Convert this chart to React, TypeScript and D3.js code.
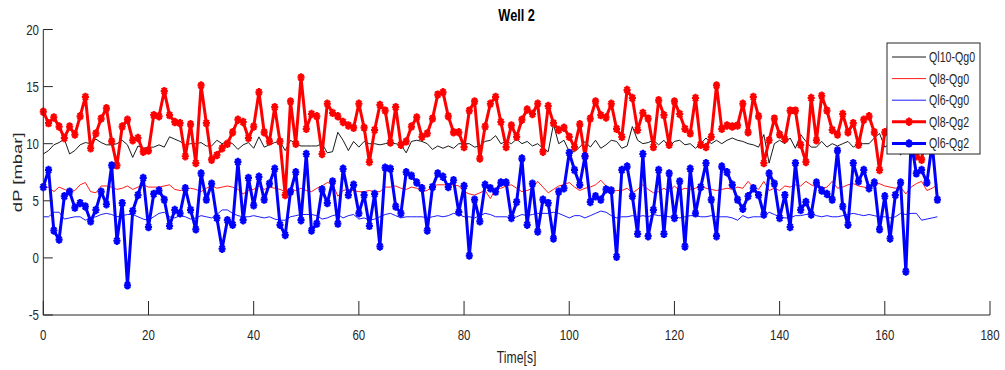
import React from "react";
import * as d3 from "d3";

const TITLE = "Well 2";
const X_LABEL = "Time[s]";
const Y_LABEL = "dP [mbar]";
const X_TICKS = [0, 20, 40, 60, 80, 100, 120, 140, 160, 180];
const Y_TICKS = [-5, 0, 5, 10, 15, 20];
const SERIES_NAMES = ["Ql10-Qg0", "Ql8-Qg0", "Ql6-Qg0", "Ql8-Qg2", "Ql6-Qg2"];

const QL10_QG0 = [
  9.1, 9.4, 9.9, 10.1, 10.4, 9.1, 9.4, 9.9, 10.1, 10.0,
  10.4, 10.1, 9.9, 9.9, 10.0, 10.3, 9.9, 8.8, 9.8, 9.6,
  9.7, 9.7, 9.9, 9.7, 10.6, 10.4, 10.2, 9.9, 10.0, 10.0,
  10.1, 9.8, 9.8, 10.3, 10.0, 10.2, 10.0, 9.5, 9.9, 10.1,
  9.6, 10.6, 9.7, 9.9, 10.1, 10.2, 9.4, 10.3, 10.0, 9.8,
  9.8, 9.8, 9.8, 10.0, 9.2, 9.3, 11.0, 10.3, 9.4, 10.2,
  9.7, 10.2, 10.0, 10.0, 9.9, 10.0, 10.1, 10.0, 9.9, 9.2,
  10.2, 10.3, 10.2, 10.0, 9.5, 9.8, 9.6, 9.8, 9.6, 10.0,
  10.0, 10.0, 9.7, 9.8, 10.2, 10.3, 10.7, 10.0, 10.2, 10.0,
  10.4, 10.0, 10.2, 9.8, 10.0, 9.6, 9.3, 11.7, 10.0, 10.3,
  9.3, 9.3, 9.7, 10.2, 9.7, 10.3, 9.6, 9.9, 10.3, 10.2,
  9.6, 9.8, 11.5, 10.3, 10.0, 10.1, 10.3, 9.9, 10.3, 9.7,
  10.2, 10.3, 9.9, 10.0, 9.6, 10.0, 10.5, 10.0, 10.3, 10.0,
  10.3, 10.5, 10.3, 10.2, 10.0, 9.9, 9.7, 10.8, 8.3, 10.0,
  10.3, 10.0, 10.5, 9.6, 10.8, 10.2, 9.7, 9.7, 10.2, 9.7,
  10.0, 9.8, 10.0, 10.2, 9.7, 10.0, 10.0, 10.0, 10.5, 10.9,
  9.7, 10.0, 9.8, 9.0, 10.0, 10.2, 9.9, 10.1, 10.0, 9.9,
  10.1,
];

const QL8_QG0 = [
  6.1, 6.2, 5.8, 6.2, 6.0, 5.8, 5.9, 6.4, 6.6, 5.8,
  5.7, 6.3, 6.3, 6.2, 6.0, 6.1, 6.3, 6.0, 6.2, 6.4,
  6.2, 6.2, 6.2, 6.3, 6.4, 6.0, 5.9, 6.0, 6.1, 6.0,
  5.8, 6.1, 6.3, 6.1, 6.2, 6.3, 6.2, 6.0, 5.6, 5.9,
  6.0, 6.3, 6.0, 6.2, 6.1, 6.0, 5.8, 6.0, 5.9, 6.1,
  5.9, 5.8, 6.1, 6.3, 6.6, 6.5, 5.4, 5.9, 6.0, 5.9,
  5.8, 5.8, 5.9, 5.8, 5.8, 6.2, 6.2, 6.3, 6.1, 6.0,
  6.2, 6.1, 5.8, 5.9, 6.3, 6.4, 6.4, 6.4, 6.4, 6.3,
  5.8, 5.6, 5.5, 5.7, 5.9, 5.2, 6.0, 6.1, 6.3, 6.4,
  6.1, 5.8, 5.9, 6.1, 6.7, 6.2, 5.7, 6.0, 6.3, 6.4,
  6.6, 6.2, 5.9, 6.1, 6.2, 6.4, 6.8, 6.3, 5.8, 5.9,
  5.9, 6.1, 5.7, 6.0, 6.4, 6.0, 5.7, 5.8, 6.1, 5.8,
  6.3, 5.9, 6.1, 6.0, 6.1, 6.3, 6.1, 6.0, 5.9, 6.0,
  6.1, 6.0, 6.2, 6.1, 6.7, 6.2, 6.0, 6.7, 5.9, 6.1,
  5.9, 6.3, 6.2, 6.4, 6.3, 6.7, 6.4, 6.2, 6.1, 6.2,
  6.7, 6.1, 6.2, 6.4, 6.5, 6.3, 6.2, 6.1, 6.5, 6.5,
  6.3, 6.2, 6.1, 6.2, 5.6, 6.2, 6.5, 6.7, 5.9, 6.1,
  6.4,
];

const QL6_QG0 = [
  3.6, 3.6, 4.0, 4.0, 3.4, 3.5, 3.6, 3.6, 3.3, 3.5,
  3.6, 3.8, 3.9, 3.8, 3.6, 3.7, 3.8, 3.8, 3.6, 3.4,
  3.3, 3.6, 3.9, 4.0, 3.6, 3.5, 3.7, 3.6, 3.4, 3.5,
  3.7, 3.6, 3.5, 3.8, 4.2, 4.2, 3.9, 3.7, 3.6, 3.6,
  3.7, 3.6, 3.5, 3.6, 3.4, 3.3, 3.3, 3.6, 3.7, 3.8,
  3.8, 3.8, 3.7, 3.4, 3.5, 3.7, 3.8, 3.5, 3.7, 3.8,
  3.4, 3.5, 3.3, 3.4, 3.6, 3.8, 3.9, 3.7, 3.5, 3.6,
  3.6, 3.6, 3.6, 3.5, 3.6, 3.7, 3.6, 3.7, 3.9, 3.8,
  3.6, 3.6, 3.5, 3.7, 3.9, 3.8, 3.6, 3.6, 3.6, 3.5,
  3.6, 3.8, 3.7, 3.8, 3.9, 3.9, 3.9, 4.0, 3.9, 3.7,
  3.5, 3.7, 3.7, 3.5, 3.7, 3.9, 4.1, 4.0, 3.7, 3.5,
  3.6, 3.6, 3.7, 3.6, 3.7, 3.6, 3.8, 3.7, 3.7, 3.6,
  3.6, 3.5, 3.6, 3.7, 3.7, 3.6, 3.6, 3.7, 3.6, 3.6,
  3.6, 3.5, 3.3, 3.7, 3.5, 3.6, 3.6, 3.6, 4.0, 3.8,
  3.6, 3.5, 3.5, 3.7, 3.7, 3.8, 3.9, 3.7, 3.6, 3.7,
  3.6, 3.6, 3.7, 3.8, 3.9, 3.8, 3.7, 3.8, 3.7, 3.6,
  3.6, 3.5, 3.6, 3.9, 3.8, 3.9, 3.9, 3.3, 3.4, 3.5,
  3.6,
];

const QL8_QG2 = [
  12.8, 11.8, 12.3, 11.5, 10.5, 11.5, 10.8, 12.4, 14.1, 9.6,
  10.9, 12.2, 13.1, 10.2, 8.1, 11.5, 12.1, 10.3, 10.5, 9.3,
  9.4, 12.5, 12.4, 14.6, 12.5, 11.9, 11.8, 8.9, 11.7, 8.3,
  15.1, 11.8, 8.6, 9.0, 9.6, 10.0, 11.0, 12.1, 11.9, 10.5,
  11.5, 14.5, 11.0, 10.2, 13.2, 10.2, 5.5, 13.7, 10.0, 15.8,
  11.3, 12.6, 12.4, 9.1, 13.5, 12.7, 12.4, 11.9, 11.6, 11.4,
  13.5, 11.4, 8.4, 11.2, 13.4, 12.9, 10.1, 13.2, 9.9, 10.2,
  11.5, 12.3, 10.6, 10.9, 12.2, 14.3, 14.5, 12.4, 11.0, 11.0,
  9.7, 12.9, 13.7, 8.7, 11.5, 13.5, 14.1, 11.9, 9.7, 11.6,
  10.6, 12.1, 13.0, 12.6, 13.5, 9.3, 13.3, 11.8, 11.2, 11.4,
  10.6, 9.7, 11.7, 8.9, 12.2, 13.7, 12.5, 12.3, 13.5, 11.3,
  10.6, 14.7, 14.0, 11.2, 12.7, 12.2, 9.7, 13.8, 12.5, 9.9,
  13.7, 12.6, 11.3, 10.9, 14.0, 9.9, 9.7, 10.6, 15.1, 11.3,
  11.6, 11.5, 11.6, 13.5, 11.0, 14.1, 12.4, 8.3, 10.3, 12.2,
  10.8, 10.4, 12.9, 12.9, 9.9, 8.4, 14.0, 10.3, 14.2, 12.9,
  11.2, 10.8, 12.6, 11.0, 11.8, 9.9, 12.1, 12.4, 11.0, 7.7,
  11.0, 11.4, 12.0, 10.6, 12.4, 11.2, 8.9, 8.6, 11.6, 12.2,
  10.8,
];

const QL6_QG2 = [
  6.2, 7.7, 2.4, 1.6, 5.4, 5.8, 4.4, 4.8, 4.5, 3.2,
  4.2, 5.8, 4.7, 8.1, 1.5, 4.8, -2.4, 4.1, 5.5, 7.0,
  2.7, 5.6, 5.9, 5.1, 2.8, 4.2, 3.9, 6.1, 4.2, 2.5,
  7.4, 5.1, 6.5, 3.5, 0.8, 3.3, 2.9, 8.4, 3.3, 7.0,
  4.6, 7.1, 5.1, 6.5, 7.8, 2.9, 2.0, 5.8, 7.5, 3.3,
  9.1, 2.4, 3.0, 6.0, 4.8, 6.7, 3.0, 7.8, 5.5, 6.4,
  3.9, 5.5, 2.8, 5.6, 1.0, 7.9, 7.8, 4.5, 3.9, 7.5,
  7.2, 6.6, 6.1, 2.4, 6.2, 7.4, 7.1, 6.2, 6.8, 4.0,
  6.3, 0.2, 5.1, 3.2, 6.4, 6.1, 5.8, 6.6, 6.6, 3.5,
  4.9, 8.7, 2.9, 6.5, 2.3, 5.1, 4.8, 1.7, 5.8, 6.1,
  9.2, 7.7, 6.4, 8.9, 4.9, 5.4, 5.1, 6.0, 5.9, 0.1,
  7.7, 8.0, 5.4, 2.1, 9.1, 1.9, 4.2, 7.7, 2.1, 7.4,
  3.5, 6.7, 1.0, 7.8, 3.9, 6.2, 8.3, 5.1, 1.9, 8.0,
  7.5, 6.4, 5.1, 4.3, 5.4, 6.1, 5.5, 3.8, 7.4, 6.5,
  3.5, 5.5, 2.7, 8.3, 4.2, 4.9, 3.8, 6.6, 5.9, 5.6,
  5.1, 9.4, 4.5, 2.9, 8.3, 6.7, 7.7, 6.1, 6.6, 2.5,
  5.4, 1.7, 5.5, 6.6, -1.2, 10.2, 7.4, 7.7, 6.6, 10.0,
  5.1,
];

const W = 1005;
const H = 370;
const AX = "#262626";
const FONT = "'Liberation Sans', Arial, Helvetica, sans-serif";

function Txt(props: any) {
  const { x, y, sx = 0.78, size = 14, anchor = "middle", weight = "normal", fill = AX, rotate = 0, children } = props;
  const tr = rotate
    ? `translate(${x},${y}) rotate(${rotate}) scale(1,${sx})`
    : `translate(${x},${y}) scale(${sx},1)`;
  return (
    <text transform={tr} textAnchor={anchor} fontSize={size} fontWeight={weight} fill={fill} fontFamily={FONT}>
      {children}
    </text>
  );
}

function star(x: number, y: number, r: number) {
  const rx = r * 0.85;
  const d = r * 0.72;
  const dx = d * 0.85;
  return `M${x - rx},${y}H${x + rx}M${x},${y - r}V${y + r}M${x - dx},${y - d}L${x + dx},${y + d}M${x - dx},${y + d}L${x + dx},${y - d}`;
}

export default function App() {
  const x = d3.scaleLinear().domain([0, 180]).range([43.3, 990]);
  const y = d3.scaleLinear().domain([-5, 20]).range([315, 29.5]);
  const line = d3
    .line<number>()
    .x((_, i) => x(i))
    .y((v) => y(v));

  const series = [
    { name: SERIES_NAMES[0], data: QL10_QG0, color: "#000000", w: 0.9, marker: false },
    { name: SERIES_NAMES[1], data: QL8_QG0, color: "#ff0000", w: 0.9, marker: false },
    { name: SERIES_NAMES[2], data: QL6_QG0, color: "#0000ff", w: 0.9, marker: false },
    { name: SERIES_NAMES[3], data: QL8_QG2, color: "#ff0000", w: 3, marker: true },
    { name: SERIES_NAMES[4], data: QL6_QG2, color: "#0000ff", w: 3, marker: true },
  ];

  const x0 = x(0);
  const yb = y(-5);
  const legX = 887, legY = 43, legW = 93, legH = 111;
  const rowY = (i: number) => 57 + i * 21.6;

  return (
    <svg width={W} height={H} style={{ position: "absolute", left: 0, top: 0, background: "#fff" }}>
      <rect x={0} y={0} width={W} height={H} fill="#fff" />
      {series.map((s) => (
        <g key={s.name}>
          <path d={line(s.data) || ""} fill="none" stroke={s.color} strokeWidth={s.w} strokeLinejoin="round" />
          {s.marker && (
            <path
              d={s.data.map((v, i) => star(x(i), y(v), 4.2)).join("")}
              fill="none"
              stroke={s.color}
              strokeWidth={2.2}
            />
          )}
        </g>
      ))}
      {/* axes */}
      <line x1={x0} x2={x0} y1={y(20)} y2={yb} stroke={AX} strokeWidth={1} />
      <line x1={x0} x2={x(180)} y1={yb} y2={yb} stroke={AX} strokeWidth={1} />
      {Y_TICKS.map((t) => (
        <g key={"y" + t}>
          <line x1={x0} x2={x0 + 9.5} y1={y(t)} y2={y(t)} stroke={AX} strokeWidth={1} />
          <Txt x={39} y={y(t) + 5} anchor="end" sx={0.82}>{String(t)}</Txt>
        </g>
      ))}
      {X_TICKS.map((t) => (
        <g key={"x" + t}>
          <line x1={x(t)} x2={x(t)} y1={yb} y2={yb - 14} stroke={AX} strokeWidth={1} />
          <Txt x={x(t)} y={340} sx={0.82}>{String(t)}</Txt>
        </g>
      ))}
      <Txt x={(x(0) + x(180)) / 2} y={21} size={17} weight="bold" fill="#000" sx={0.75}>{TITLE}</Txt>
      <Txt x={(x(0) + x(180)) / 2} y={363} size={17} sx={0.72}>{X_LABEL}</Txt>
      <Txt x={22} y={(y(20) + y(-5)) / 2} size={18.5} sx={0.7} rotate={-90}>{Y_LABEL}</Txt>
      {/* legend */}
      <rect x={legX} y={legY} width={legW} height={legH} fill="#fff" stroke={AX} strokeWidth={1} />
      {series.map((s, i) => (
        <g key={"l" + s.name}>
          <line x1={892} x2={926} y1={rowY(i)} y2={rowY(i)} stroke={s.color} strokeWidth={s.w} />
          {s.marker && <path d={star(909, rowY(i), 4.2)} fill="none" stroke={s.color} strokeWidth={2.2} />}
          <Txt x={929} y={rowY(i) + 5} anchor="start" sx={0.76}>{s.name}</Txt>
        </g>
      ))}
    </svg>
  );
}
